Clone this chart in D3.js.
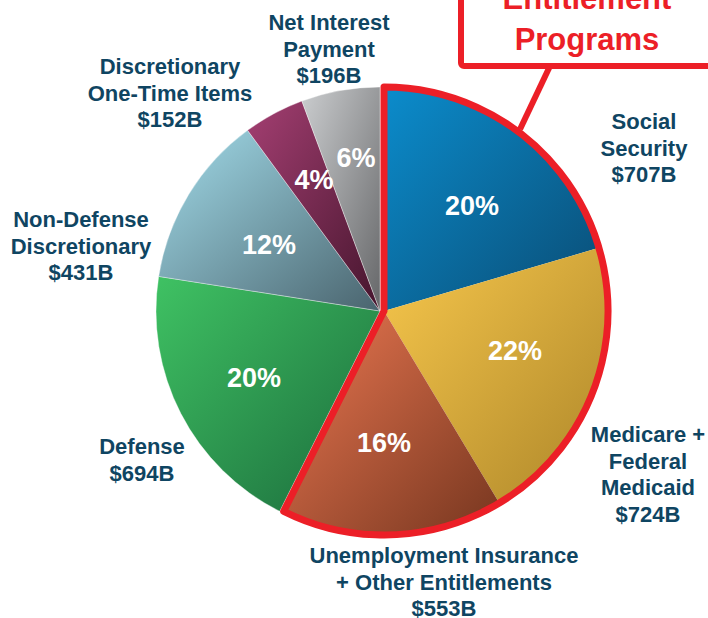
<!DOCTYPE html>
<html>
<head>
<meta charset="utf-8">
<script src="https://cdn.jsdelivr.net/npm/d3@7"></script>
<style>
  html, body { margin: 0; padding: 0; background: #fff; }
  svg { display: block; font-family: "Liberation Sans", Arial, sans-serif; }
</style>
</head>
<body>
<svg id="chart" width="708" height="618"></svg>
<script>
// budget breakdown, clockwise from 12 o'clock
const categories = [
  'Social Security',
  'Medicare + Federal Medicaid',
  'Unemployment Insurance + Other Entitlements',
  'Defense',
  'Non-Defense Discretionary',
  'Discretionary One-Time Items',
  'Net Interest Payment'
];
const values = [707, 724, 553, 694, 431, 152, 196];
const percentLabels = ['20%', '22%', '16%', '20%', '12%', '4%', '6%'];
const entitlement = [true, true, true, false, false, false, false];
const labelLines = [
  ['Social', 'Security', '$707B'],
  ['Medicare +', 'Federal', 'Medicaid', '$724B'],
  ['Unemployment Insurance', '+ Other Entitlements', '$553B'],
  ['Defense', '$694B'],
  ['Non-Defense', 'Discretionary', '$431B'],
  ['Discretionary', 'One-Time Items', '$152B'],
  ['Net Interest', 'Payment', '$196B']
];
const calloutLines = ['Entitlement', 'Programs'];

// layout
const width = 708;
const height = 618;
const radius = 224;
const mainCenter = [380, 311];
const entCenter = [384, 311];
const red = '#ec1f27';
const navy = '#0f4562';
const gradColors = [
  ['#0b8ccc', '#0a4c74'],
  ['#f7c74c', '#ad8629'],
  ['#ec7852', '#76361f'],
  ['#3fc263', '#1b6b3c'],
  ['#a2dcea', '#4a646e'],
  ['#a43f72', '#45152d'],
  ['#cbcdcf', '#666769']
];
// first-line baseline / centre x of each outside label
const labelAnchors = [
  [644, 129], [648, 442], [444, 563], [142, 454], [81, 227], [170, 74], [329, 30]
];
const lineStep = 26.5;
// visual centre of each percentage label
const pctAnchors = [
  [472, 205], [515, 350], [384, 442], [254, 377], [269, 244], [314, 179], [356, 157]
];

const svg = d3.select('#chart');
const defs = svg.append('defs');

gradColors.forEach((c, i) => {
  const g = defs.append('linearGradient')
    .attr('id', 'grad' + i)
    .attr('x1', 0).attr('y1', 0)
    .attr('x2', 1).attr('y2', 1);
  g.append('stop').attr('offset', '0%').attr('stop-color', c[0]);
  g.append('stop').attr('offset', '100%').attr('stop-color', c[1]);
});

const pie = d3.pie().sort(null).value(d => d);
const arcs = pie(values);

const arc = d3.arc().innerRadius(0).outerRadius(radius);

// non-entitlement slices
const mainG = svg.append('g')
  .attr('transform', `translate(${mainCenter[0]},${mainCenter[1]})`);
mainG.selectAll('path')
  .data(arcs.filter((d, i) => !entitlement[i]))
  .join('path')
  .attr('d', arc)
  .attr('fill', d => `url(#grad${d.index})`)
  .attr('stroke', 'rgba(255,255,255,0.45)')
  .attr('stroke-width', 0.8);

// entitlement slices, nudged right and outlined
const entG = svg.append('g')
  .attr('transform', `translate(${entCenter[0]},${entCenter[1]})`);
const entArcs = arcs.filter((d, i) => entitlement[i]);
entG.selectAll('path.slice')
  .data(entArcs)
  .join('path')
  .attr('class', 'slice')
  .attr('d', arc)
  .attr('fill', d => `url(#grad${d.index})`);

entG.append('path')
  .attr('d', arc({
    startAngle: d3.min(entArcs, d => d.startAngle),
    endAngle: d3.max(entArcs, d => d.endAngle)
  }))
  .attr('fill', 'none')
  .attr('stroke', red)
  .attr('stroke-width', 7)
  .attr('stroke-linejoin', 'round');

// percentage labels
svg.selectAll('text.pct')
  .data(arcs)
  .join('text')
  .attr('class', 'pct')
  .attr('x', d => pctAnchors[d.index][0])
  .attr('y', d => pctAnchors[d.index][1])
  .attr('dy', '0.36em')
  .attr('text-anchor', 'middle')
  .attr('fill', '#fff')
  .attr('font-weight', 'bold')
  .attr('font-size', 27)
  .text(d => percentLabels[d.index]);

// outside category labels
labelLines.forEach((lines, i) => {
  const t = svg.append('text')
    .attr('text-anchor', 'middle')
    .attr('fill', navy)
    .attr('font-weight', 'bold')
    .attr('font-size', 22);
  lines.forEach((line, j) => {
    t.append('tspan')
      .attr('x', labelAnchors[i][0])
      .attr('y', labelAnchors[i][1] + j * lineStep)
      .text(line);
  });
});

// callout box
const ss = arcs[0];
const ssMid = (ss.startAngle + ss.endAngle) / 2;
svg.append('line')
  .attr('x1', 550).attr('y1', 66)
  .attr('x2', entCenter[0] + (radius + 3) * Math.sin(ssMid))
  .attr('y2', entCenter[1] - (radius + 3) * Math.cos(ssMid))
  .attr('stroke', red)
  .attr('stroke-width', 6);

svg.append('rect')
  .attr('x', 461).attr('y', -30)
  .attr('width', 300).attr('height', 96)
  .attr('rx', 3)
  .attr('fill', '#fff')
  .attr('stroke', red)
  .attr('stroke-width', 6);

calloutLines.forEach((line, j) => {
  svg.append('text')
    .attr('x', 587)
    .attr('y', 9 + j * 41)
    .attr('text-anchor', 'middle')
    .attr('fill', red)
    .attr('font-weight', 'bold')
    .attr('font-size', 31)
    .text(line);
});
</script>
</body>
</html>
